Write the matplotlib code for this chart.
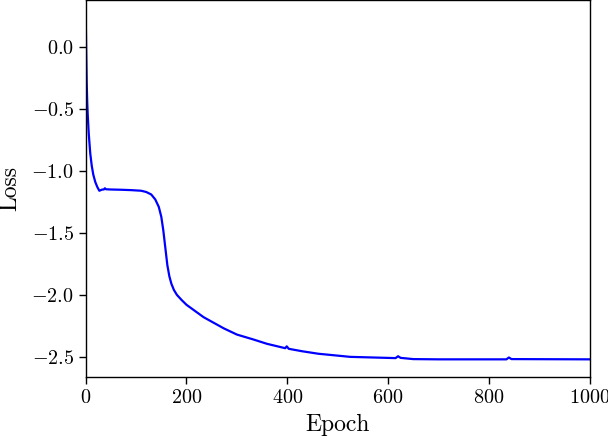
import matplotlib
matplotlib.use("Agg")
import matplotlib.pyplot as plt

epochs = [0, 1, 2, 3, 4, 6, 9, 12, 15, 19, 23, 27, 30, 33, 36, 38, 40, 50, 70, 90,
          110, 120, 130, 138, 145, 150, 154, 158, 162, 166, 170, 175, 181, 190, 200,
          234, 274, 300, 333, 360, 396, 399, 403, 430, 462, 500, 525, 570, 615, 620,
          625, 650, 700, 835, 840, 845, 1000]
loss = [0.24, -0.05, -0.30, -0.45, -0.55, -0.70, -0.86, -0.96, -1.03, -1.09, -1.13,
        -1.16, -1.155, -1.15, -1.15, -1.14, -1.148, -1.15, -1.152, -1.155,
        -1.16, -1.17, -1.19, -1.23, -1.29, -1.37, -1.48, -1.62, -1.76, -1.85, -1.91,
        -1.96, -2.00, -2.04, -2.08, -2.18, -2.27, -2.32, -2.36, -2.395, -2.43, -2.415,
        -2.435, -2.455, -2.475, -2.49, -2.50, -2.505, -2.51, -2.495, -2.508, -2.518,
        -2.52, -2.52, -2.505, -2.518, -2.52]

plt.rcParams['font.family'] = ['cmr10', 'DejaVu Serif']
plt.rcParams['mathtext.fontset'] = 'cm'
plt.rcParams['axes.formatter.use_mathtext'] = True

fig = plt.figure(figsize=(6.08, 4.36), dpi=100)
ax = fig.add_axes([0.141, 0.136, 0.9696 - 0.141, 0.999 - 0.136])
ax.plot(epochs, loss, color='#0000ff', linewidth=1.6)
ax.set_xlim(0, 1000)
ax.set_ylim(-2.66, 0.375)
ax.set_xticks([0, 200, 400, 600, 800, 1000])
ax.set_yticks([0.0, -0.5, -1.0, -1.5, -2.0, -2.5])
ax.tick_params(labelsize=14.5, length=5, width=1.0)
ax.set_xlabel('Epoch', fontsize=17, labelpad=5)
ax.set_ylabel('Loss', fontsize=17, labelpad=7)
for s in ax.spines.values():
    s.set_linewidth(1.0)
fig.savefig('out.png', dpi=100)
